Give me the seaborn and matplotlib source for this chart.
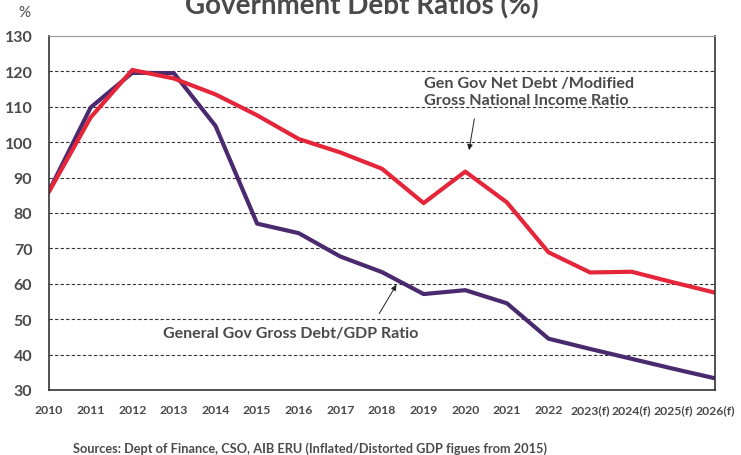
import numpy as np
import pandas as pd
import seaborn as sns
import matplotlib
matplotlib.use("Agg")
import matplotlib.pyplot as plt

years = ["2010", "2011", "2012", "2013", "2014", "2015", "2016", "2017", "2018",
         "2019", "2020", "2021", "2022", "2023(f)", "2024(f)", "2025(f)", "2026(f)"]
gross_debt_gdp = [86.2, 109.8, 119.6, 119.5, 104.6, 77.0, 74.3, 67.7, 63.3,
                  57.1, 58.2, 54.5, 44.5, 41.6, 38.8, 36.0, 33.3]
net_debt_gni = [86.0, 107.0, 120.4, 118.0, 113.5, 107.6, 100.9, 97.1, 92.5,
                82.8, 91.7, 83.0, 68.9, 63.2, 63.4, 60.4, 57.5]

df = pd.DataFrame({
    "pos": list(range(len(years))) * 2,
    "value": gross_debt_gdp + net_debt_gni,
    "series": ["gross"] * len(years) + ["net"] * len(years),
})

sns.set_style("white")
plt.rcParams["font.family"] = ["Lato", "DejaVu Sans"]
txt = "#4a4a4a"

fig = plt.figure(figsize=(7.41, 4.56), dpi=100)
ax = fig.add_axes([49 / 741, 1 - 391 / 456, 666 / 741, 354 / 456])

sns.lineplot(data=df, x="pos", y="value", hue="series",
             palette={"gross": "#4a2a6e", "net": "#e5263a"},
             linewidth=3, legend=False, ax=ax)

ax.set_xlim(0, len(years) - 1)
ax.set_ylim(30, 130)
ax.set_yticks(range(30, 131, 10))
ax.set_xticks(range(len(years)))
ax.set_xticklabels(years)
ax.set_xlabel("")
ax.set_ylabel("")
for y in range(40, 121, 10):
    ax.axhline(y, color="#333333", linestyle=(0, (3, 2)), linewidth=0.8, zorder=0)

for t in ax.get_yticklabels():
    t.set_fontweight("bold")
    t.set_fontsize(11.5)
    t.set_color(txt)
for t in ax.get_xticklabels():
    t.set_fontweight("bold")
    t.set_fontsize(8.8)
    t.set_color(txt)
ax.tick_params(axis="y", length=0, pad=12)
ax.tick_params(axis="x", length=0, pad=10)

for s in ["left", "bottom", "right"]:
    ax.spines[s].set_color("#333333")
    ax.spines[s].set_linewidth(1.2)
ax.spines["top"].set_color("#999999")
ax.spines["top"].set_linewidth(0.8)

ax.text(9.0, 114.3, "Gen Gov Net Debt /Modified\nGross National Income Ratio",
        fontsize=11.6, fontweight="bold", color=txt, va="center", ha="left",
        linespacing=1.25)
ax.annotate("", xy=(10.08, 97.0), xytext=(10.23, 107.4),
            arrowprops=dict(arrowstyle="-|>", color="#222222", lw=0.7,
                            mutation_scale=8))
ax.text(2.75, 46.2, "General Gov Gross Debt/GDP Ratio", fontsize=11.5,
        fontweight="bold", color=txt, va="center", ha="left")
ax.annotate("", xy=(8.38, 60.4), xytext=(7.9, 50.9),
            arrowprops=dict(arrowstyle="-|>", color="#222222", lw=0.7,
                            mutation_scale=8))

fig.text(362 / 741, 1 - 14 / 456, "Government Debt Ratios (%)", fontsize=20,
         fontweight="bold", color=txt, ha="center", va="baseline")
fig.text(18 / 741, 1 - 13 / 456, "%", fontsize=11, color=txt, ha="left",
         va="center")
fig.text(73 / 741, 1 - 449 / 456,
         "Sources: Dept of Finance, CSO, AIB ERU (Inflated/Distorted GDP figues from 2015)",
         fontsize=9.2, fontweight="bold", color=txt, ha="left", va="center")

fig.savefig("out.png", dpi=100)
